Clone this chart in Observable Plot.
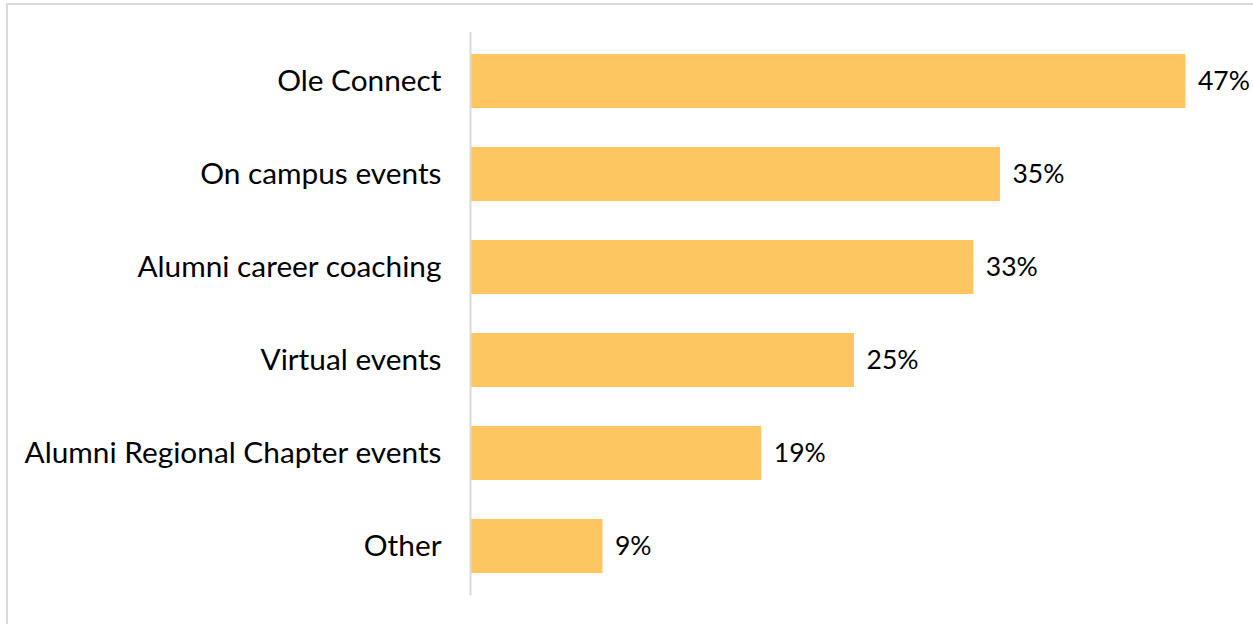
<!DOCTYPE html>
<html><head><meta charset="utf-8">
<script src="https://cdn.jsdelivr.net/npm/d3@7"></script>
<script src="https://cdn.jsdelivr.net/npm/@observablehq/plot@0.6"></script>
<style>
html,body{margin:0;padding:0;background:#fff;overflow:hidden;}
#frame{position:absolute;left:6px;top:3px;width:1300px;height:700px;border:2px solid #d9d9d9;box-sizing:border-box;}
#chart{position:absolute;left:0;top:0;}
</style></head>
<body>
<div id="frame"></div>
<div id="chart"></div>
<script>
const categories = ["Ole Connect","On campus events","Alumni career coaching","Virtual events","Alumni Regional Chapter events","Other"];
const values = [47,34.8,33.05,25.2,19.1,8.65];
const labels = ["47%","35%","33%","25%","19%","9%"];
const data = categories.map((c,i)=>({cat:c, v:values[i], label:labels[i]}));
const chart = Plot.plot({
  width:1253, height:624,
  marginLeft:471, marginRight:22, marginTop:32, marginBottom:28.5,
  style:{fontFamily:"Lato, Calibri, sans-serif", fontSize:"29.8px", color:"#000", background:"transparent"},
  x:{domain:[0,50], axis:null},
  y:{domain:categories, paddingInner:0.414, paddingOuter:0.207, label:null},
  marks:[
    Plot.barX(data,{x:"v", y:"cat", fill:"#FEC661"}),
    Plot.ruleX([0],{stroke:"#d9d9d9", strokeWidth:2, dx:-1}),
    Plot.axisY({tickSize:0, tickPadding:30, fontSize:29.8, label:null, fill:"#000"}),
    Plot.text(data,{x:"v", y:"cat", text:"label", textAnchor:"start", dx:12, fontSize:26.5, fill:"#000"})
  ]
});
document.getElementById("chart").appendChild(chart);
</script>
</body></html>
